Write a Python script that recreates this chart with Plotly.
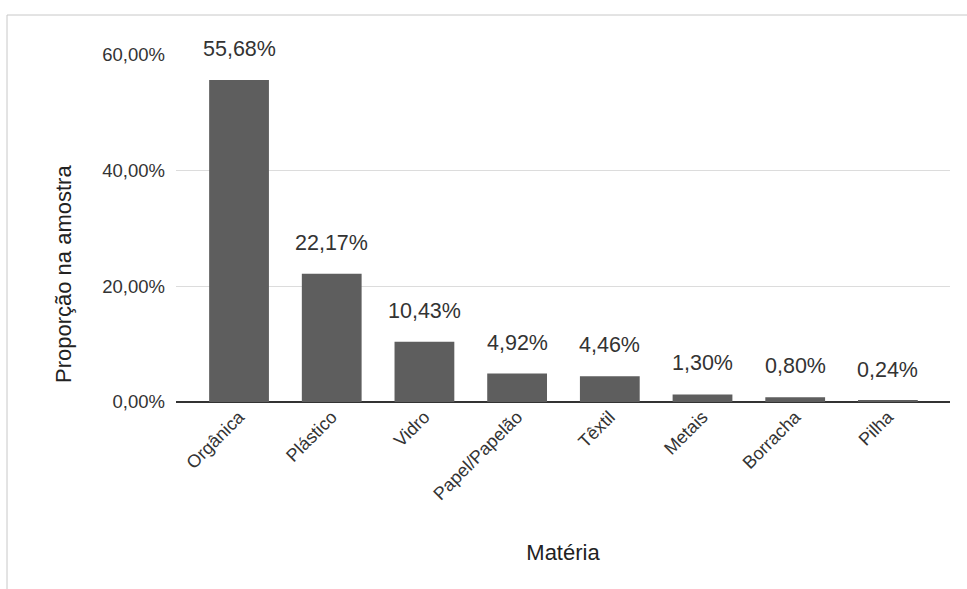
import plotly.graph_objects as go

# Composição da amostra por tipo de material
categorias = ["Orgânica", "Plástico", "Vidro", "Papel/Papelão", "Têxtil", "Metais", "Borracha", "Pilha"]
proporcoes = [55.68, 22.17, 10.43, 4.92, 4.46, 1.30, 0.80, 0.24]
ticks_y = [0, 20, 40, 60]
ticks_y_texto = ["0,00%", "20,00%", "40,00%", "60,00%"]


def fmt_pct(v):
    return f"{v:.2f}".replace(".", ",") + "%"


FONTE = "Liberation Sans, Arial, sans-serif"
W, H = 967, 589
L, R, T, B = 176, 17, 55, 187

fig = go.Figure()
fig.add_trace(go.Bar(
    x=categorias,
    y=proporcoes,
    width=0.645,
    marker=dict(color="#5e5e5e", line=dict(width=0)),
    hoverinfo="x+y",
))

# rótulos de valor acima de cada barra
for cat, v in zip(categorias, proporcoes):
    fig.add_annotation(
        x=cat, y=v, text=fmt_pct(v), showarrow=False,
        yanchor="middle", yshift=31,
        font=dict(family=FONTE, size=21.5, color="#333333"),
    )

pw = W - L - R
ph = H - T - B

# título do eixo vertical
fig.add_annotation(
    xref="paper", yref="paper",
    x=(63 - L) / pw, y=(H - B - 274) / ph,
    text="Proporção na amostra", textangle=-90, showarrow=False,
    xanchor="center", yanchor="middle",
    font=dict(family=FONTE, size=22, color="#222222"),
)

# moldura fina (borda superior e esquerda)
fig.add_shape(type="line", xref="paper", yref="paper",
              x0=(7 - L) / pw, x1=(W - L) / pw, y0=(H - B - 15) / ph, y1=(H - B - 15) / ph,
              line=dict(color="#c8c8c8", width=1))
fig.add_shape(type="line", xref="paper", yref="paper",
              x0=(7 - L) / pw, x1=(7 - L) / pw, y0=(H - B - 15) / ph, y1=(H - B - H) / ph,
              line=dict(color="#c8c8c8", width=1))

fig.update_layout(
    width=W, height=H,
    margin=dict(l=L, r=R, t=T, b=B, pad=0),
    paper_bgcolor="white", plot_bgcolor="white",
    showlegend=False,
    font=dict(family=FONTE, color="#333333"),
    xaxis=dict(
        range=[-0.68, 7.67],
        tickangle=-45,
        tickfont=dict(size=18, color="#333333"),
        showgrid=False, showline=False, ticks="",
        title=dict(text="Matéria", font=dict(size=22, color="#222222"), standoff=41),
    ),
    yaxis=dict(
        range=[0, 60],
        tickvals=ticks_y, ticktext=ticks_y_texto,
        tickfont=dict(size=18.5, color="#333333"),
        showgrid=True, gridcolor="#dcdcdc", gridwidth=1,
        zeroline=True, zerolinecolor="#333333", zerolinewidth=1.5,
        ticks="", ticklabelstandoff=10,
    ),
)

fig.write_html("out.html")
